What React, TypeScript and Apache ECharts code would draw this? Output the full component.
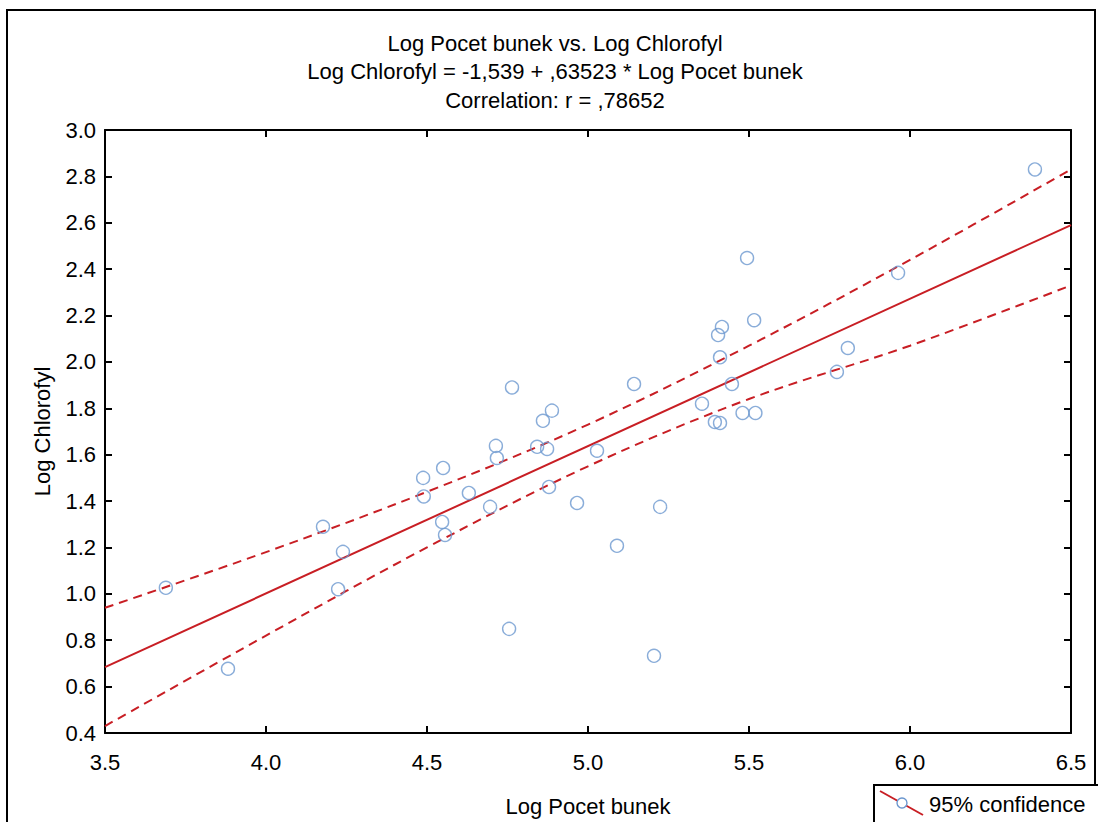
import React, { useEffect, useRef } from "react";
import * as echarts from "echarts";

// ---- data ----
const titleLines = [
  "Log Pocet bunek vs. Log Chlorofyl",
  "Log Chlorofyl = -1,539 + ,63523 * Log Pocet bunek",
  "Correlation: r = ,78652",
];
const xAxisName = "Log Pocet bunek";
const yAxisName = "Log Chlorofyl";
const legendLabel = "95% confidence";

const pointX = [
  3.689, 3.882, 4.177, 4.224, 4.239, 4.488, 4.49, 4.547, 4.55, 4.556,
  4.63, 4.696, 4.714, 4.717, 4.755, 4.764, 4.842, 4.86, 4.873, 4.879,
  4.888, 4.966, 5.028, 5.09, 5.143, 5.205, 5.224, 5.354, 5.394, 5.41,
  5.41, 5.404, 5.416, 5.447, 5.48, 5.52, 5.494, 5.516, 5.773, 5.807,
  5.963, 6.388,
];
const pointY = [
  1.026, 0.677, 1.289, 1.02, 1.181, 1.5, 1.42, 1.31, 1.543, 1.254,
  1.435, 1.375, 1.638, 1.586, 0.849, 1.89, 1.634, 1.746, 1.625, 1.461,
  1.79, 1.392, 1.617, 1.207, 1.905, 0.733, 1.375, 1.82, 1.741, 1.737,
  2.02, 2.116, 2.151, 1.905, 1.78, 1.78, 2.448, 2.18, 1.957, 2.06,
  2.384, 2.83,
];

const regX = [3.5, 6.5];
const regY = [0.684, 2.59];

const bandX = [3.5, 4.0, 4.5, 5.0, 5.5, 6.0, 6.5];
const upperY = [0.94, 1.18, 1.44, 1.73, 2.07, 2.44, 2.83];
const lowerY = [0.43, 0.82, 1.2, 1.55, 1.84, 2.07, 2.33];

const xMin = 3.5, xMax = 6.5, xStep = 0.5;
const yMin = 0.4, yMax = 3.0, yStep = 0.2;

const FONT = "'Liberation Sans', Arial, Helvetica, sans-serif";
const RED = "#c81e24";
const BLUE = "#6d98cf";

export default function App() {
  const ref = useRef<HTMLDivElement>(null);
  useEffect(() => {
    document.body.style.margin = "0";
    const chart = echarts.init(ref.current!, null, { renderer: "svg" });
    const pts = pointX.map((x, i) => [x, pointY[i]]);
    const reg = regX.map((x, i) => [x, regY[i]]);
    const up = bandX.map((x, i) => [x, upperY[i]]);
    const lo = bandX.map((x, i) => [x, lowerY[i]]);
    const tickCommon = { show: true, inside: true, length: 7, lineStyle: { color: "#000", width: 2 } };
    const lineCommon = { show: true, lineStyle: { color: "#000", width: 2 } };
    const labelCommon = { color: "#000", fontSize: 22, fontFamily: FONT };
    chart.setOption({
      animation: false,
      backgroundColor: "#fff",
      grid: { left: 105, top: 130, width: 966, height: 603, containLabel: false },
      xAxis: [
        {
          type: "value", min: xMin, max: xMax, interval: xStep, position: "bottom",
          axisLine: lineCommon, axisTick: tickCommon, splitLine: { show: false },
          axisLabel: { ...labelCommon, margin: 18, formatter: (v: number) => v.toFixed(1) },
          name: xAxisName, nameLocation: "middle", nameGap: 62,
          nameTextStyle: { color: "#000", fontSize: 22, fontFamily: FONT },
        },
        {
          type: "value", min: xMin, max: xMax, interval: xStep, position: "top",
          axisLine: lineCommon, axisTick: tickCommon, splitLine: { show: false },
          axisLabel: { show: false },
        },
      ],
      yAxis: [
        {
          type: "value", min: yMin, max: yMax, interval: yStep, position: "left",
          axisLine: lineCommon, axisTick: tickCommon, splitLine: { show: false },
          axisLabel: { ...labelCommon, margin: 9, formatter: (v: number) => v.toFixed(1) },
          name: yAxisName, nameLocation: "middle", nameGap: 52, nameRotate: 90,
          nameTextStyle: { color: "#000", fontSize: 22, fontFamily: FONT },
        },
        {
          type: "value", min: yMin, max: yMax, interval: yStep, position: "right",
          axisLine: lineCommon, axisTick: tickCommon, splitLine: { show: false },
          axisLabel: { show: false },
        },
      ],
      series: [
        {
          type: "line", data: up, smooth: 0.35, symbol: "none", silent: true,
          lineStyle: { color: RED, width: 2, type: [9, 6] },
        },
        {
          type: "line", data: lo, smooth: 0.35, symbol: "none", silent: true,
          lineStyle: { color: RED, width: 2, type: [9, 6] },
        },
        {
          type: "line", data: reg, symbol: "none", silent: true,
          lineStyle: { color: RED, width: 2 },
        },
        {
          type: "scatter", data: pts, symbol: "circle", symbolSize: 13,
          itemStyle: { color: "rgba(0,0,0,0)", borderColor: BLUE, borderWidth: 1.4 },
          z: 5,
        },
      ],
      graphic: [
        {
          type: "rect", shape: { x: 7, y: 10, width: 1088, height: 840 },
          style: { fill: "none", stroke: "#000", lineWidth: 2 }, z: 100,
        },
        ...titleLines.map((t, i) => ({
          type: "text", x: 555, y: 43 + i * 28.5,
          style: {
            text: t, fill: "#000", fontSize: 22, fontFamily: FONT,
            textAlign: "center", textVerticalAlign: "middle",
          },
        })),
        {
          type: "rect", shape: { x: 874, y: 785, width: 230, height: 60 },
          style: { fill: "#fff", stroke: "#000", lineWidth: 2 }, z: 100,
        },
        {
          type: "line", shape: { x1: 880, y1: 791, x2: 923, y2: 815 },
          style: { stroke: RED, lineWidth: 2 }, z: 101,
        },
        {
          type: "circle", shape: { cx: 902, cy: 803, r: 5 },
          style: { fill: "#fff", stroke: BLUE, lineWidth: 1.4 }, z: 102,
        },
        {
          type: "text", x: 929, y: 804, z: 102,
          style: {
            text: legendLabel, fill: "#000", fontSize: 22, fontFamily: FONT,
            textAlign: "left", textVerticalAlign: "middle",
          },
        },
      ],
    });
    return () => chart.dispose();
  }, []);
  return (
    <div
      ref={ref}
      style={{ position: "absolute", left: 0, top: 0, width: 1098, height: 822 }}
    />
  );
}
